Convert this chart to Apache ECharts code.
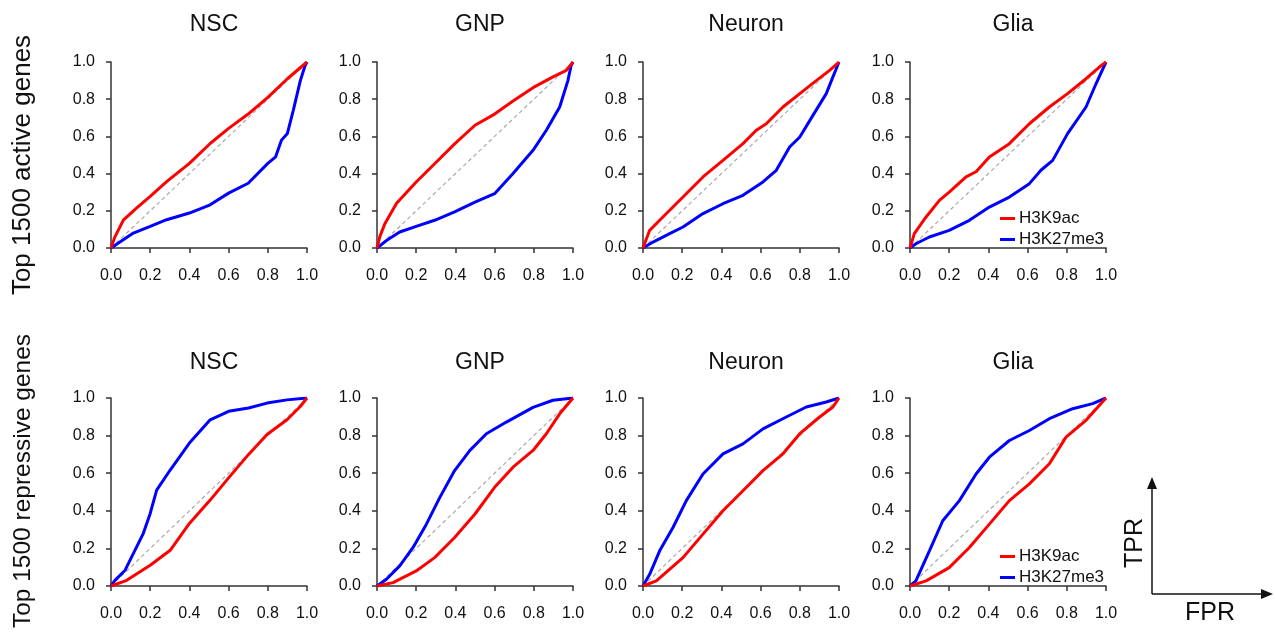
<!DOCTYPE html>
<html>
<head>
<meta charset="utf-8">
<script src="https://cdn.jsdelivr.net/npm/echarts@6/dist/echarts.min.js"></script>
<style>
  html, body { margin: 0; padding: 0; background: #fff; }
  #roc-container { width: 1275px; height: 637px; }
</style>
</head>
<body>
<div id="roc-container"></div>
<script>
// panel names and row labels
var cellTypes = ['NSC', 'GNP', 'Neuron', 'Glia'];
var rowLabels = ['Top 1500 active genes', 'Top 1500 repressive genes'];
var markNames = ['H3K9ac', 'H3K27me3'];
var diagonal = [[0, 0], [1, 1]];

// ROC curves, [FPR, TPR]
// top 1500 active genes
var nscActK9 = [[0,0],[0.02,0.06],[0.063,0.15],[0.13,0.214],[0.2,0.277],[0.284,0.357],[0.4,0.455],[0.506,0.562],[0.6,0.643],[0.7,0.72],[0.8,0.81],[0.9,0.91],[1,1]];
var nscActK27 = [[0,0],[0.114,0.08],[0.2,0.116],[0.284,0.152],[0.4,0.188],[0.506,0.232],[0.6,0.295],[0.7,0.348],[0.8,0.455],[0.84,0.49],[0.87,0.58],[0.9,0.616],[0.93,0.74],[0.966,0.9],[0.99,0.98],[1,1]];
var gnpActK9 = [[0,0],[0.014,0.06],[0.04,0.13],[0.1,0.24],[0.2,0.355],[0.294,0.453],[0.396,0.56],[0.5,0.66],[0.6,0.72],[0.694,0.79],[0.796,0.862],[0.898,0.92],[0.966,0.955],[1,1]];
var gnpActK27 = [[0,0],[0.048,0.04],[0.116,0.086],[0.2,0.116],[0.294,0.149],[0.396,0.194],[0.5,0.247],[0.6,0.292],[0.694,0.4],[0.796,0.525],[0.864,0.633],[0.932,0.758],[0.974,0.9],[0.99,0.98],[1,1]];
var neuActK9 = [[0,0],[0.034,0.095],[0.085,0.149],[0.204,0.274],[0.306,0.382],[0.408,0.471],[0.51,0.561],[0.578,0.633],[0.629,0.668],[0.714,0.758],[0.8,0.83],[0.884,0.9],[0.952,0.955],[1,1]];
var neuActK27 = [[0,0],[0.051,0.032],[0.136,0.077],[0.204,0.113],[0.306,0.185],[0.408,0.238],[0.51,0.283],[0.612,0.355],[0.68,0.418],[0.748,0.543],[0.8,0.597],[0.867,0.713],[0.935,0.83],[0.969,0.92],[1,1]];
var gliaActK9 = [[0,0],[0.022,0.077],[0.082,0.167],[0.15,0.256],[0.2,0.3],[0.286,0.382],[0.337,0.41],[0.405,0.489],[0.507,0.561],[0.609,0.668],[0.711,0.758],[0.804,0.83],[0.898,0.91],[0.966,0.973],[1,1]];
var gliaActK27 = [[0,0],[0.03,0.023],[0.099,0.059],[0.2,0.095],[0.303,0.149],[0.405,0.22],[0.507,0.274],[0.609,0.346],[0.668,0.418],[0.728,0.471],[0.804,0.615],[0.898,0.758],[0.949,0.883],[1,1]];
// top 1500 repressive genes
var nscRepK9 = [[0,0],[0.08,0.03],[0.2,0.11],[0.302,0.19],[0.4,0.333],[0.506,0.457],[0.6,0.575],[0.702,0.7],[0.796,0.806],[0.898,0.884],[0.966,0.955],[1,1]];
var nscRepK27 = [[0,0],[0.02,0.03],[0.072,0.084],[0.165,0.28],[0.2,0.386],[0.233,0.51],[0.302,0.617],[0.4,0.76],[0.506,0.884],[0.6,0.929],[0.702,0.947],[0.796,0.973],[0.898,0.99],[1,1]];
var gnpRepK9 = [[0,0],[0.082,0.018],[0.2,0.08],[0.294,0.151],[0.396,0.258],[0.5,0.383],[0.6,0.525],[0.694,0.632],[0.796,0.721],[0.864,0.81],[0.932,0.916],[1,1]];
var gnpRepK27 = [[0,0],[0.048,0.036],[0.116,0.107],[0.184,0.205],[0.252,0.329],[0.32,0.47],[0.396,0.614],[0.473,0.72],[0.558,0.81],[0.66,0.872],[0.796,0.95],[0.898,0.988],[1,1]];
var neuRepK9 = [[0,0],[0.068,0.027],[0.204,0.151],[0.306,0.276],[0.408,0.4],[0.51,0.507],[0.612,0.614],[0.714,0.703],[0.8,0.81],[0.901,0.899],[0.969,0.952],[1,1]];
var neuRepK27 = [[0,0],[0.034,0.062],[0.085,0.187],[0.153,0.311],[0.221,0.454],[0.306,0.596],[0.408,0.703],[0.51,0.756],[0.612,0.836],[0.731,0.899],[0.833,0.952],[0.935,0.979],[1,1]];
var gliaRepK9 = [[0,0],[0.082,0.027],[0.2,0.098],[0.303,0.205],[0.405,0.329],[0.507,0.454],[0.609,0.543],[0.711,0.65],[0.796,0.792],[0.898,0.881],[1,1]];
var gliaRepK27 = [[0,0],[0.03,0.027],[0.099,0.187],[0.167,0.347],[0.252,0.454],[0.337,0.596],[0.405,0.685],[0.507,0.774],[0.609,0.827],[0.711,0.89],[0.83,0.943],[0.932,0.97],[1,1]];

var k9Curves = [
    [nscActK9, gnpActK9, neuActK9, gliaActK9],
    [nscRepK9, gnpRepK9, neuRepK9, gliaRepK9]
];
var k27Curves = [
    [nscActK27, gnpActK27, neuActK27, gliaActK27],
    [nscRepK27, gnpRepK27, neuRepK27, gliaRepK27]
];

var chartDom = document.getElementById('roc-container');
var myChart = echarts.init(chartDom);

var fontFam = 'Liberation Sans, Arial, sans-serif';
var colLeft = [111, 377, 643, 910];
var rowTop = [62, 398];
var gridW = 196;
var gridH = [186, 188];

var grids = [], xAxes = [], yAxes = [], titles = [], series = [];

rowTop.forEach(function (top, r) {
    cellTypes.forEach(function (name, c) {
        var idx = r * 4 + c;
        grids.push({ left: colLeft[c], top: top, width: gridW, height: gridH[r] });
        titles.push({
            text: name,
            left: colLeft[c] + gridW / 2,
            top: top - (r === 0 ? 54 : 52),
            textAlign: 'center',
            textStyle: { fontFamily: fontFam, fontSize: 23, fontWeight: 'normal', color: '#111' }
        });
        var axisCommon = {
            gridIndex: idx,
            type: 'value',
            min: 0,
            max: 1,
            interval: 0.2,
            offset: 8,
            splitLine: { show: false },
            axisLine: { show: true, lineStyle: { color: '#333', width: 1.5 } },
            axisTick: { show: true, length: 5, lineStyle: { color: '#333', width: 1.5 } },
            axisLabel: {
                fontFamily: fontFam,
                fontSize: 16,
                color: '#111',
                formatter: function (v) { return v.toFixed(1); }
            }
        };
        xAxes.push(echarts.util.merge({ position: 'bottom', axisLabel: { margin: 12 } }, axisCommon, true));
        yAxes.push(echarts.util.merge({ position: 'left', axisLabel: { margin: 8 } }, axisCommon, true));

        series.push({
            type: 'line',
            xAxisIndex: idx,
            yAxisIndex: idx,
            data: diagonal,
            symbol: 'none',
            silent: true,
            z: 1,
            lineStyle: { color: '#aaa', width: 1.2, type: [4, 3] }
        });
        series.push({
            name: markNames[1],
            type: 'line',
            xAxisIndex: idx,
            yAxisIndex: idx,
            data: k27Curves[r][c],
            symbol: 'none',
            z: 2,
            color: '#0000ff',
            lineStyle: { color: '#0000ff', width: 3 }
        });
        series.push({
            name: markNames[0],
            type: 'line',
            xAxisIndex: idx,
            yAxisIndex: idx,
            data: k9Curves[r][c],
            symbol: 'none',
            z: 3,
            color: '#ff0000',
            lineStyle: { color: '#ff0000', width: 3 }
        });
    });
});

function makeLegend(top) {
    return {
        left: 1000,
        top: top,
        padding: 0,
        orient: 'vertical',
        selectedMode: false,
        data: markNames,
        icon: 'rect',
        itemWidth: 15,
        itemHeight: 3,
        itemGap: 4,
        textStyle: { fontFamily: fontFam, fontSize: 17, color: '#111', padding: [0, 0, 0, -1] }
    };
}

var graphics = [];
rowLabels.forEach(function (label, r) {
    graphics.push({
        type: 'text',
        x: 23,
        y: r === 0 ? 165 : 481,
        rotation: Math.PI / 2,
        style: {
            text: label,
            fontFamily: fontFam,
            fontSize: r === 0 ? 26 : 24.5,
            fill: '#111',
            textAlign: 'center',
            textVerticalAlign: 'middle'
        }
    });
});

// TPR / FPR key in the corner
graphics.push(
    { type: 'line', shape: { x1: 1152, y1: 594, x2: 1152, y2: 486 }, style: { stroke: '#111', lineWidth: 1.5 } },
    { type: 'polygon', shape: { points: [[1152, 477], [1147, 489], [1157, 489]] }, style: { fill: '#111' } },
    { type: 'line', shape: { x1: 1152, y1: 594, x2: 1264, y2: 594 }, style: { stroke: '#111', lineWidth: 1.5 } },
    { type: 'polygon', shape: { points: [[1273, 594], [1261, 589], [1261, 599]] }, style: { fill: '#111' } },
    {
        type: 'text', x: 1135, y: 543, rotation: Math.PI / 2,
        style: { text: 'TPR', fontFamily: fontFam, fontSize: 25, fill: '#111', textAlign: 'center', textVerticalAlign: 'middle' }
    },
    {
        type: 'text', x: 1210, y: 613,
        style: { text: 'FPR', fontFamily: fontFam, fontSize: 25, fill: '#111', textAlign: 'center', textVerticalAlign: 'middle' }
    }
);

var option = {
    backgroundColor: '#fff',
    animation: false,
    title: titles,
    legend: [makeLegend(210), makeLegend(548)],
    grid: grids,
    xAxis: xAxes,
    yAxis: yAxes,
    series: series,
    graphic: graphics
};

myChart.setOption(option);

window.addEventListener('resize', function () {
    myChart.resize();
});
</script>
</body>
</html>
